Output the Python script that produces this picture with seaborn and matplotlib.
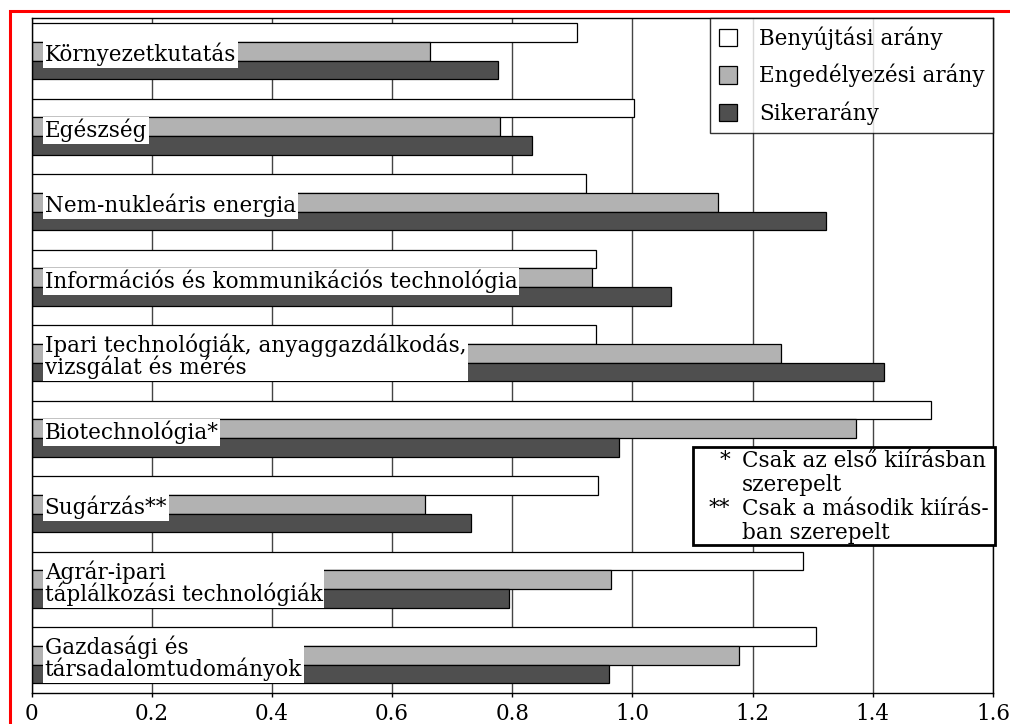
import pandas as pd
import matplotlib.pyplot as plt
import seaborn as sns
from matplotlib.patches import Rectangle

# Data
categories = [
    'Környezetkutatás',
    'Egészség',
    'Nem-nukleáris energia',
    'Információs és kommunikációs technológia',
    'Ipari technológiák, anyaggazdálkodás,\nvizsgálat és mérés',
    'Biotechnológia*',
    'Sugárzás**',
    'Agrár-ipari\ntáplálkozási technológiák',
    'Gazdasági és\ntársadalomtudományok',
]
series = ['Benyújtási arány', 'Engedélyezési arány', 'Sikerarány']
benyujtasi = [0.907, 1.003, 0.922, 0.939, 0.939, 1.496, 0.943, 1.284, 1.305]
engedelyezesi = [0.663, 0.780, 1.142, 0.933, 1.248, 1.372, 0.655, 0.964, 1.177]
siker = [0.777, 0.833, 1.322, 1.064, 1.418, 0.978, 0.731, 0.794, 0.961]
tick_values = [0, 0.2, 0.4, 0.6, 0.8, 1.0, 1.2, 1.4, 1.6]
tick_labels = ['0', '0.2', '0.4', '0.6', '0.8', '1.0', '1.2', '1.4', '1.6']
note_marks = '*\n\n**\n'
note_text = 'Csak az első kiírásban\nszerepelt\nCsak a második kiírás-\nban szerepelt'

colors = ['#ffffff', '#b2b2b2', '#4f4f4f']
fs = 15.5

sns.set_theme(style='white')
plt.rcParams['font.family'] = ['DejaVu Serif']
plt.rcParams['font.size'] = fs
plt.rcParams['text.color'] = 'black'
plt.rcParams['xtick.color'] = 'black'
plt.rcParams['xtick.labelcolor'] = 'black'

df = pd.DataFrame({
    'category': categories * 3,
    'series': [s for s in series for _ in categories],
    'value': benyujtasi + engedelyezesi + siker,
})

fig = plt.figure(figsize=(10.1, 7.24), dpi=100)
ax = fig.add_axes([0.0312, 0.0428, 0.952, 0.9323])

sns.barplot(data=df, y='category', x='value', hue='series', order=categories,
            hue_order=series, palette=colors, saturation=1, orient='h',
            width=0.74, edgecolor='black', linewidth=0.9, errorbar=None, ax=ax)

ax.set_xlim(0, 1.6)
ax.set_ylim(8.5, -0.44)
ax.set_xticks(tick_values)
ax.set_xticklabels(tick_labels)
ax.set_yticks([])
ax.set_xlabel('')
ax.set_ylabel('')
ax.tick_params(axis='x', direction='out', length=3, width=1, pad=4,
               labelsize=fs, color='black', bottom=True)
ax.grid(axis='x', color='#444444', linewidth=1.0)
ax.set_axisbelow(True)
for s in ax.spines.values():
    s.set_color('black')
    s.set_linewidth(1.0)

# category labels on the bars
for i, lab in enumerate(categories):
    ax.text(0.022, i + 0.045, lab, ha='left', va='center', fontsize=fs,
            linespacing=0.92, zorder=4,
            bbox=dict(facecolor='white', edgecolor='none', pad=1.2))

leg = ax.legend(loc='upper right', borderaxespad=0, frameon=True, fancybox=False,
                fontsize=fs, handlelength=0.85, handleheight=0.85,
                handletextpad=1.0, labelspacing=0.64, borderpad=0.4)
leg.get_frame().set_edgecolor('black')
leg.get_frame().set_linewidth(1.0)
leg.set_zorder(6)

# note box
ax.add_patch(Rectangle((0.688, 0.2193), 0.314, 0.1451, transform=ax.transAxes,
                       facecolor='white', edgecolor='black', linewidth=2,
                       zorder=6, clip_on=False))
ax.text(0.7265, 0.360, note_marks, transform=ax.transAxes, ha='right', va='top',
        multialignment='right', fontsize=fs, linespacing=1.12, zorder=7)
ax.text(0.739, 0.360, note_text, transform=ax.transAxes, ha='left', va='top',
        fontsize=fs, linespacing=1.12, zorder=7)

# red frame
fig.add_artist(Rectangle((10 / 1010, -0.05), 1.1, (724 - 11) / 724 + 0.05,
                         transform=fig.transFigure, facecolor='none',
                         edgecolor='red', linewidth=2.2, clip_on=False))

fig.savefig('out.png', dpi=100)
